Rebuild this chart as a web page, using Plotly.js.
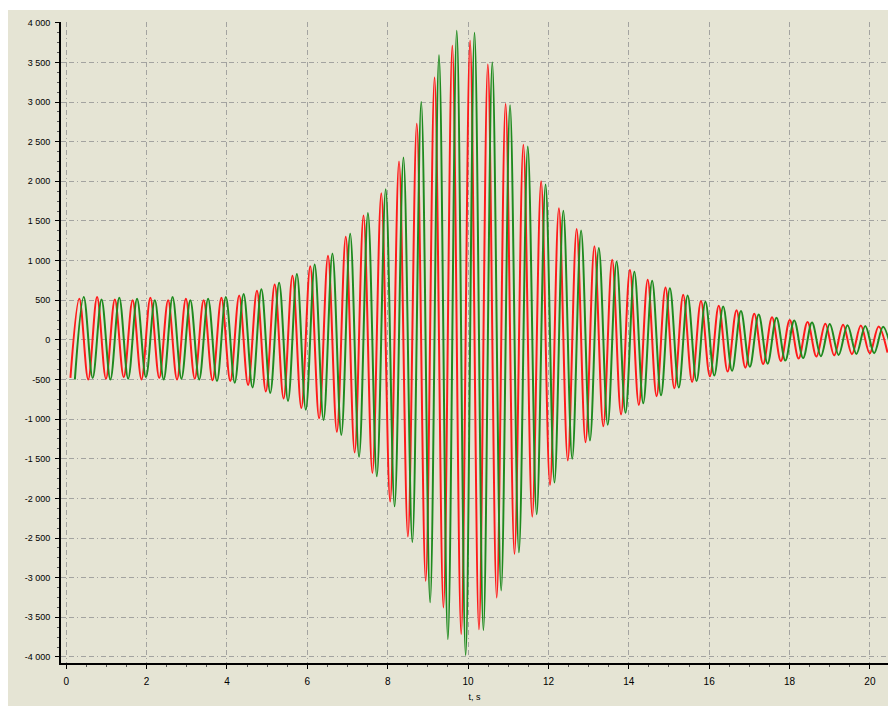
<!DOCTYPE html>
<html>
<head>
<meta charset="utf-8">
<script src="https://cdn.plot.ly/plotly-3.0.1.min.js"></script>
<style>
  html, body { margin: 0; padding: 0; background: #ffffff; }
  #chart { position: absolute; left: 8px; top: 10px; width: 880px; height: 696px; }
</style>
</head>
<body>
<div id="chart"></div>
<script>
// Sample timing of the extrema (s): first extremum and half period spacing
const redStart = 0.105;
const greenStart = 0.2155;
const halfPeriod = 0.221;

// Red series: successive troughs / peaks
const redValues = [
  -480, 520, -500, 540, -490, 510, -470, 500, -500, 530,
  -480, 500, -500, 520, -490, 500, -510, 530, -520, 560,
  -570, 620, -650, 700, -740, 810, -860, 930, -990, 1060,
  -1160, 1300, -1420, 1570, -1680, 1850, -2040, 2250, -2480, 2725,
  -3040, 3310, -3375, 3710, -3710, 3775, -3650, 3475, -3250, 2975,
  -2700, 2460, -2230, 2000, -1830, 1660, -1520, 1400, -1290, 1180,
  -1090, 1010, -940, 880, -820, 760, -710, 660, -610, 570,
  -530, 490, -460, 430, -400, 375, -350, 330, -305, 285,
  -265, 250, -235, 225, -210, 205, -195, 190, -180, 180,
  -170, 170, -160
];

// Green series: successive troughs / peaks
const greenValues = [
  -500, 540, -480, 510, -500, 530, -490, 520, -470, 500,
  -500, 540, -490, 500, -500, 520, -520, 540, -540, 580,
  -600, 640, -670, 720, -770, 830, -880, 950, -1010, 1090,
  -1200, 1340, -1475, 1600, -1720, 1900, -2100, 2300, -2550, 3000,
  -3310, 3590, -3775, 3900, -3975, 3875, -3660, 3500, -3160, 2960,
  -2680, 2440, -2200, 1960, -1800, 1630, -1500, 1380, -1270, 1160,
  -1070, 990, -920, 860, -800, 745, -700, 650, -600, 560,
  -520, 480, -450, 420, -390, 365, -340, 320, -300, 280,
  -260, 245, -230, 220, -205, 200, -190, 185, -178, 175,
  -168, 165, -160
];

const xTickVals = [0, 2, 4, 6, 8, 10, 12, 14, 16, 18, 20];
const xTickText = ["0", "2", "4", "6", "8", "10", "12", "14", "16", "18", "20"];
const yTickVals = [4000, 3500, 3000, 2500, 2000, 1500, 1000, 500, 0, -500, -1000, -1500, -2000, -2500, -3000, -3500, -4000];
const yTickText = ["4 000", "3 500", "3 000", "2 500", "2 000", "1 500", "1 000", "500", "0", "-500", "-1 000", "-1 500", "-2 000", "-2 500", "-3 000", "-3 500", "-4 000"];
const xTitle = "t, s";

const bg = '#E5E4D4';
const gridDash = '5px,3px,5px,3px,1px,3px';
const gridColor = '#A3A3A0';

const traces = [
  {
    type: 'scatter', mode: 'lines', name: 'red',
    x0: redStart, dx: halfPeriod, y: redValues,
    line: { color: '#FF1A1A', width: 2, shape: 'spline', smoothing: 1 },
    hoverinfo: 'skip'
  },
  {
    type: 'scatter', mode: 'lines', name: 'green',
    x0: greenStart, dx: halfPeriod, y: greenValues,
    line: { color: '#1E8A1E', width: 2, shape: 'spline', smoothing: 1 },
    hoverinfo: 'skip'
  }
];

const layout = {
  width: 880, height: 696,
  margin: { l: 53, r: 0, t: 12, b: 43 },
  paper_bgcolor: bg, plot_bgcolor: bg,
  showlegend: false,
  font: { family: 'Liberation Sans, Arial, sans-serif', size: 10, color: '#000' },
  xaxis: {
    range: [-0.13, 20.45],
    tickmode: 'array', tickvals: xTickVals, ticktext: xTickText,
    ticks: 'outside', ticklen: 4, tickcolor: '#000', tickwidth: 1,
    ticklabelstandoff: 4,
    showline: true, linecolor: '#000', linewidth: 2,
    showgrid: true, gridcolor: gridColor, gridwidth: 1, griddash: gridDash,
    zeroline: false,
    minor: { dtick: 0.5, tick0: 0, ticks: 'outside', ticklen: 2, tickcolor: '#555', showgrid: false },
    tickfont: { size: 10, color: '#000' },
    title: { text: xTitle, font: { size: 9, color: '#000' }, standoff: 8 },
    automargin: false
  },
  yaxis: {
    range: [-4076, 4010],
    tickmode: 'array', tickvals: yTickVals, ticktext: yTickText,
    ticks: 'outside', ticklen: 4, tickcolor: '#000', tickwidth: 1,
    ticklabelstandoff: 3,
    showline: true, linecolor: '#000', linewidth: 2,
    showgrid: true, gridcolor: gridColor, gridwidth: 1, griddash: gridDash,
    zeroline: false,
    minor: { dtick: 125, tick0: 0, ticks: 'outside', ticklen: 2, tickcolor: '#555', showgrid: false },
    tickfont: { size: 9, color: '#000' },
    automargin: false
  }
};

Plotly.newPlot('chart', traces, layout, { staticPlot: true, displayModeBar: false });
</script>
</body>
</html>
